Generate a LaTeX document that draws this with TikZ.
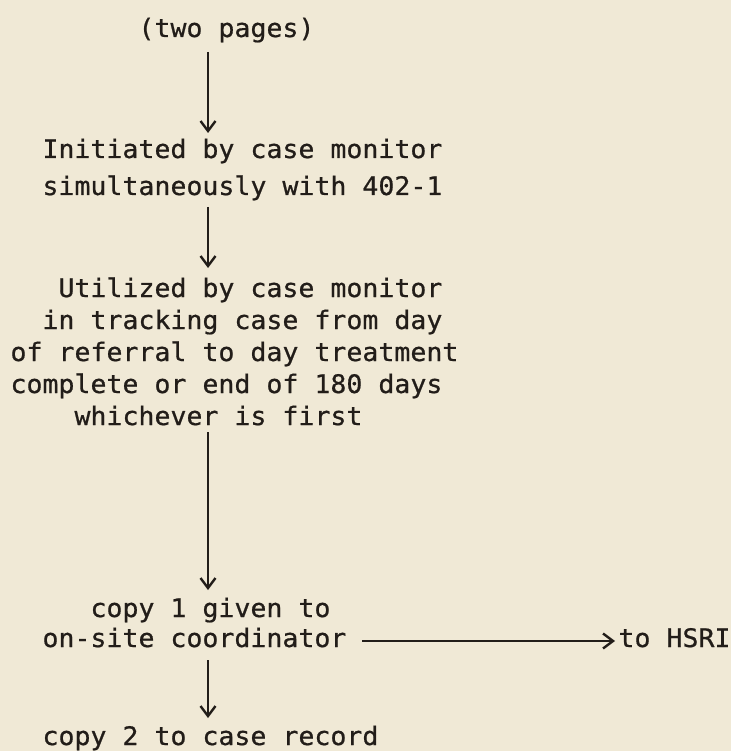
\documentclass[tikz,border=0pt]{standalone}
\usepackage{fontspec}
\usetikzlibrary{arrows.meta,calc}
\newfontfamily\tw[FakeStretch=1.042,FakeBold=0.7]{DejaVu Sans Mono}
\definecolor{paper}{RGB}{240,233,214}
\definecolor{ink}{RGB}{34,29,25}
\begin{document}
\begin{tikzpicture}[x=1pt,y=-1pt,
  txt/.style={anchor=base west,inner sep=0pt,outer sep=0pt,text=ink,
    font=\tw\fontsize{25.5}{32}\selectfont},
  arr/.style={draw=ink,line width=2.4pt,
    -{Straight Barb[length=10pt,width=15pt,line width=2.4pt]}}]
\fill[paper] (0,0) rectangle (731,751);
\useasboundingbox (0,0) rectangle (731,751);
\coordinate (ax) at (208,0);
\node[txt] (two)   at (138.5,37)  {(two pages)};
\node[txt] (init1) at (42.5,158)  {Initiated by case monitor};
\node[txt] (init2) at (42.5,195)  {simultaneously with 402-1};
\node[txt] (util1) at (58.5,297)  {Utilized by case monitor};
\node[txt] (util2) at (42.5,329)  {in tracking case from day};
\node[txt] (util3) at (10.5,361)  {of referral to day treatment};
\node[txt] (util4) at (10.5,393)  {complete or end of 180 days};
\node[txt] (util5) at (74.5,425)  {whichever is first};
\node[txt] (copy1) at (90.5,617)  {copy 1 given to};
\node[txt] (onsite) at (42.5,647) {on-site coordinator};
\node[txt] (hsri)  at (618.5,647) {to HSRI};
\node[txt] (copy2) at (42.5,745)  {copy 2 to case record};
\draw[arr] ($(two.base -| ax)+(0,15)$) -- ($(init1.base -| ax)+(0,-25)$);
\draw[arr] ($(init2.base -| ax)+(0,12)$) -- ($(util1.base -| ax)+(0,-29)$);
\draw[arr] ($(util5.base -| ax)+(0,7)$) -- ($(copy1.base -| ax)+(0,-27)$);
\draw[arr] ($(onsite.base -| ax)+(0,13)$) -- ($(copy2.base -| ax)+(0,-27)$);
\draw[arr] ($(onsite.base east)+(16,-6)$) -- ($(hsri.base west)+(-3.5,-6)$);
\end{tikzpicture}
\end{document}
